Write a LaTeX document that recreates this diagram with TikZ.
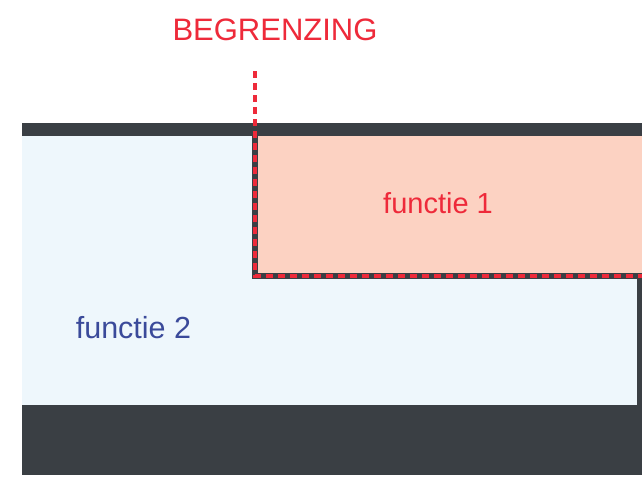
\documentclass[tikz,border=0pt]{standalone}
\usepackage{fontspec}
\setmainfont{Liberation Sans}
\definecolor{darkbar}{HTML}{3A3F44}
\definecolor{lightblue}{HTML}{EEF7FC}
\definecolor{pinkfill}{HTML}{FCD2C2}
\definecolor{redline}{HTML}{EE2A3A}
\definecolor{bluetext}{HTML}{3A4A9A}
\tikzset{
  label text/.style={inner sep=0pt, anchor=base, font=#1},
  redtext/.style={text=redline},
}
\begin{document}
\begin{tikzpicture}[x=1pt,y=-1pt]
\useasboundingbox (0,0) rectangle (642,495);
\fill[white] (0,0) rectangle (642,495);
% light blue field (functie 2)
\fill[lightblue] (22,136) rectangle (642,406);
% pink field (functie 1)
\fill[pinkfill] (254,136) rectangle (642,276);
% dark outline of functie 1 / right edge
\draw[darkbar, line width=6pt, line join=miter] (254.5,136) -- (254.5,276) -- (639.5,276) -- (639.5,406);
% bars
\fill[darkbar] (22,123) rectangle (642,136);
\fill[darkbar] (22,405) rectangle (642,475);
% boundary
\coordinate (btop) at (254.5,71);
\coordinate (bcorner) at (254.5,276);
\coordinate (bend) at (642,276);
\draw[redline, line width=4pt, dash pattern=on 7pt off 5pt] (btop) -- (bcorner) -- (bend);
% texts
\node[label text={\fontsize{31}{31}\selectfont}, redtext] (begr) at (275,41) {BEGRENZING};
\node[label text={\fontsize{29}{29}\selectfont}, redtext] (f1) at (438,213) {functie 1};
\node[label text={\fontsize{30.5}{30.5}\selectfont}, text=bluetext] (f2) at (133.5,338) {functie 2};
\end{tikzpicture}
\end{document}
